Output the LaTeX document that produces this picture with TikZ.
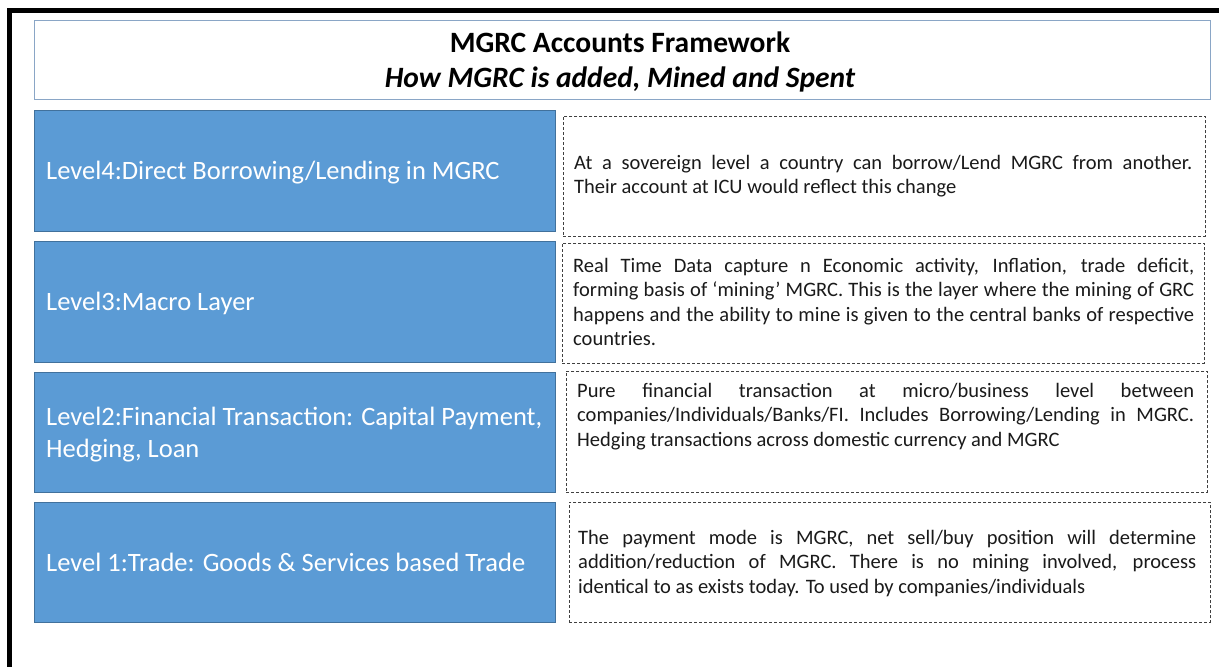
\documentclass[tikz,border=0pt]{standalone}
\usepackage{fontspec}
\setmainfont{Carlito}
\usetikzlibrary{positioning}

\definecolor{levelblue}{HTML}{5B9BD5}
\definecolor{leveledge}{HTML}{41719C}
\definecolor{titleedge}{HTML}{8AA6C6}
\definecolor{dashedge}{HTML}{404040}
\definecolor{bodytext}{HTML}{1A1A1A}

\tikzset{
  levelbox/.style={draw=leveledge, line width=0.9pt, fill=levelblue, anchor=north west, inner sep=0pt},
  notebox/.style={draw=dashedge, line width=0.9pt, dash pattern=on 3pt off 2pt, anchor=north west, inner sep=0pt},
  titlebox/.style={draw=titleedge, line width=1.4pt, anchor=north west, inner sep=0pt},
  leveltext/.style={anchor=base west, inner sep=0pt, text=white, align=left,
    font=\fontsize{26.5}{32}\selectfont},
  notetext/.style={anchor=base west, inner sep=0pt, text=bodytext, text width=618pt, align=justify,
    font=\fontsize{20.5}{24.6}\selectfont},
  titletext/.style={anchor=base, inner sep=0pt, text=black, font=\fontsize{29.5}{34}\selectfont\bfseries},
}

\begin{document}
\begin{tikzpicture}[x=1pt, y=-1pt]
  \useasboundingbox (0,0) rectangle (1219,667);
  \fill[white] (0,0) rectangle (1219,667);

  % heavy black frame along the top and left
  \draw[line width=4.5pt, line join=miter] (1219,10.5) -- (9.5,10.5) -- (9.5,667);

  % heading
  \node[titlebox, minimum width=1176pt, minimum height=79pt] (title) at (34,20) {};
  \node[titletext] (t1) at (620,52) {MGRC Accounts Framework};
  \node[titletext, font=\fontsize{29.5}{34}\selectfont\bfseries\itshape] (t2) at (620,87) {How MGRC is added, Mined and Spent};

  % level boxes
  \node[levelbox, minimum width=521pt, minimum height=121pt] (l4) at (34,110) {};
  \node[levelbox, minimum width=521pt, minimum height=121pt] (l3) at (34,241) {};
  \node[levelbox, minimum width=521pt, minimum height=120pt] (l2) at (34,372) {};
  \node[levelbox, minimum width=521pt, minimum height=120pt] (l1) at (34,502) {};

  \node[leveltext] (l4t) at (46,179) {Level4:Direct Borrowing/Lending in MGRC};
  \node[leveltext] (l3t) at (46,310) {Level3:Macro Layer};
  \node[leveltext] (l2t) at (46,457) {Level2:Financial Transaction: Capital Payment,\\Hedging, Loan};
  \node[leveltext] (l1t) at (46,571) {Level 1:Trade: Goods \& Services based Trade};

  % description boxes
  \node[notebox, minimum width=642pt, minimum height=120pt] (d4) at (563,116) {};
  \node[notebox, minimum width=642pt, minimum height=120pt] (d3) at (562,243) {};
  \node[notebox, minimum width=641pt, minimum height=121pt] (d2) at (566,371) {};
  \node[notebox, minimum width=641pt, minimum height=120pt] (d1) at (569,502) {};

  \node[notetext] (d4t) at (574,169)
    {At a sovereign level a country can borrow/Lend MGRC from another.\linebreak
     Their account at ICU would reflect this change};
  \node[notetext, text width=621pt] (d3t) at (573,272)
    {Real Time Data capture n Economic activity, Inflation, trade deficit,\linebreak
     forming basis of ‘mining’ MGRC. This is the layer where the mining of GRC\linebreak
     happens and the ability to mine is given to the central banks of respective\linebreak
     countries.};
  \node[notetext, text width=617pt] (d2t) at (577,397)
    {Pure financial transaction at micro/business level between\linebreak
     companies/Individuals/Banks/FI. Includes Borrowing/Lending in MGRC.\linebreak
     Hedging transactions across domestic currency and MGRC};
  \node[notetext, text width=618pt] (d1t) at (578,544)
    {The payment mode is MGRC, net sell/buy position will determine\linebreak
     addition/reduction of MGRC. There is no mining involved, process\linebreak
     identical to as exists today. To used by companies/individuals};
\end{tikzpicture}
\end{document}
